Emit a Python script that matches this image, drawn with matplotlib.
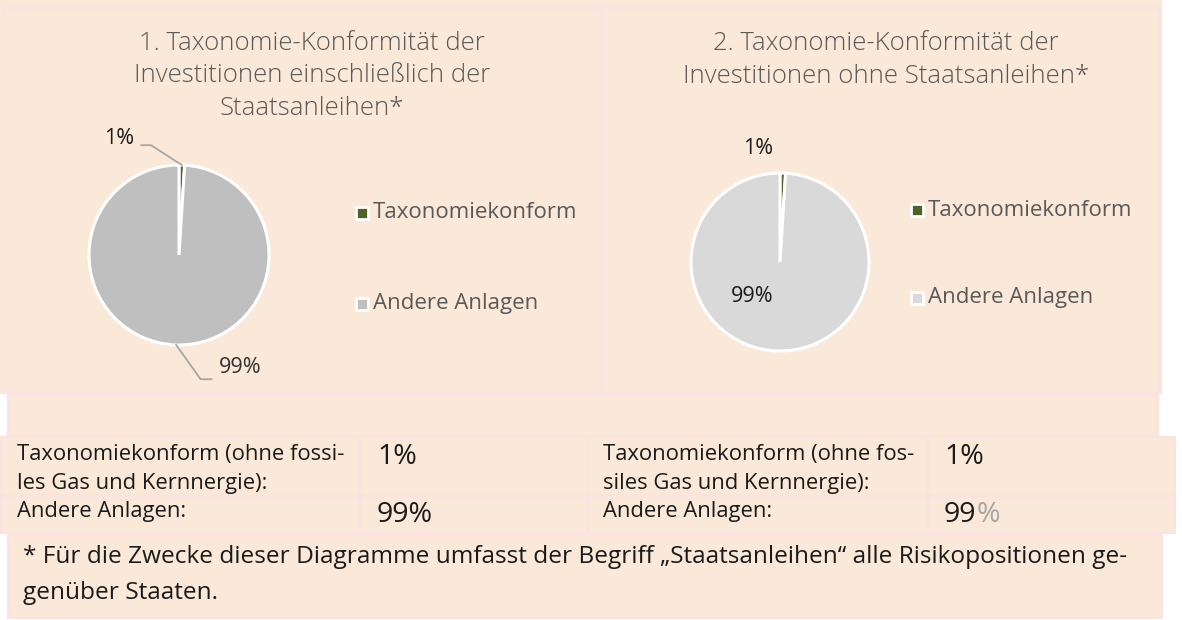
import matplotlib
matplotlib.use("Agg")
import matplotlib.pyplot as plt
from matplotlib.patches import Rectangle
import numpy as np

plt.rcParams['font.family'] = ['Open Sans', 'DejaVu Sans']

# ---- data ----
categories = ["Taxonomiekonform", "Andere Anlagen"]
values_incl = [1, 99]
values_excl = [1, 99]
labels_incl = ["1%", "99%"]
labels_excl = ["1%", "99%"]
title_incl = "1. Taxonomie-Konformität der\nInvestitionen einschließlich der\nStaatsanleihen*"
title_excl = "2. Taxonomie-Konformität der\nInvestitionen ohne Staatsanleihen*"
table_row1_label = ["Taxonomiekonform (ohne fossi-\nles Gas und Kernnergie):",
                    "Taxonomiekonform (ohne fos-\nsiles Gas und Kernnergie):"]
table_row2_label = ["Andere Anlagen:", "Andere Anlagen:"]
table_row1_val = ["1%", "1%"]
table_row2_val = ["99%", "99"]
footnote = ("* Für die Zwecke dieser Diagramme umfasst der Begriff „Staatsanleihen“ alle Risikopositionen ge-\n"
            "genüber Staaten.")

W, H = 1182, 620
PEACH = "#FAE8D8"
PINK = "#FCE2E2"
GREEN = "#4F6228"
GREY1 = "#BFBFBF"
GREY2 = "#D9D9D9"
TXT = "#595959"
LEAD = "#A6A6A6"

fig = plt.figure(figsize=(W / 100, H / 100), dpi=100)
fig.patch.set_facecolor("white")
bg = fig.add_axes([0, 0, 1, 1])
bg.set_xlim(0, W)
bg.set_ylim(H, 0)
bg.axis("off")

def rect(x0, y0, x1, y1, fc=PEACH, ec=PINK, lw=1.5):
    bg.add_patch(Rectangle((x0, y0), x1 - x0, y1 - y0, facecolor=fc, edgecolor=ec, linewidth=lw))

# panels
rect(0, 0, 1162, 394, fc=PEACH, ec="none")
rect(4, 8, 601, 393)
rect(603, 8, 1160, 393)
rect(8, 395, 1158, 436)
for (a0, a1) in [(0, 360), (360, 588), (588, 928), (928, 1175)]:
    rect(a0, 437, a1, 496)
    rect(a0, 496, a1, 533)
rect(8, 534, 1162, 618)

# titles
bg.text(312, 76, title_incl, ha="center", va="center", fontsize=18.5, color=TXT,
        linespacing=1.38, fontweight="light")
bg.text(886, 60, title_excl, ha="center", va="center", fontsize=18.5, color=TXT,
        linespacing=1.38, fontweight="light")

def pie_axes(cx, cy, r):
    ax = fig.add_axes([(cx - r) / W, (H - cy - r) / H, 2 * r / W, 2 * r / H])
    return ax

def finish(ax):
    ax.set_xlim(-1, 1)
    ax.set_ylim(-1, 1)
    ax.set_aspect("auto")
    ax.axis("off")

def mid(w):
    a = np.deg2rad((w.theta1 + w.theta2) / 2)
    return np.cos(a), np.sin(a)

# pie 1
ax1 = pie_axes(179, 255, 90)
w1, _ = ax1.pie(values_incl, colors=[GREEN, GREY1], startangle=90, counterclock=False,
                radius=1, wedgeprops=dict(edgecolor="white", linewidth=2.2))
finish(ax1)
p = mid(w1[0])
ax1.plot([-0.42, -0.31, p[0]], [1.22, 1.22, p[1]], color=LEAD, lw=1.3, clip_on=False)
ax1.text(-0.5, 1.30, labels_incl[0], ha="right", va="center", fontsize=15.5, color="#1a1a1a")
p = mid(w1[1])
ax1.plot([p[0], 0.24, 0.36], [p[1], -1.38, -1.38], color=LEAD, lw=1.3, clip_on=False)
ax1.text(0.44, -1.25, labels_incl[1], ha="left", va="center", fontsize=15.5, color="#333333")

# pie 2
ax2 = pie_axes(780, 262, 89)
w2, _ = ax2.pie(values_excl, colors=[GREEN, GREY2], startangle=90, counterclock=False,
                radius=1, wedgeprops=dict(edgecolor="white", linewidth=2.2))
finish(ax2)
ax2.text(-0.25, 1.27, labels_excl[0], ha="center", va="center", fontsize=15.5, color="#1a1a1a")
ax2.text(-0.31, -0.39, labels_excl[1], ha="center", va="center", fontsize=15.5, color="#1a1a1a")

# legends
def legend(x, ys, cols):
    for y, c, lab in zip(ys, cols, categories):
        bg.add_patch(Rectangle((x, y - 6), 12, 12, facecolor=c, edgecolor="white", linewidth=2))
        bg.text(x + 17, y, lab, ha="left", va="center", fontsize=16, color=TXT)

legend(356, [213, 304], [GREEN, GREY1])
legend(911, [210, 298], [GREEN, GREY2])

# table
TK = "#1a1a1a"
bg.text(17, 469, table_row1_label[0], ha="left", va="center", fontsize=15.8, color=TK, linespacing=1.45)
bg.text(603, 469, table_row1_label[1], ha="left", va="center", fontsize=15.8, color=TK, linespacing=1.45)
bg.text(17, 512, table_row2_label[0], ha="left", va="center", fontsize=15.8, color=TK)
bg.text(603, 512, table_row2_label[1], ha="left", va="center", fontsize=15.8, color=TK)
bg.text(377, 457, table_row1_val[0], ha="left", va="center", fontsize=20.5, color=TK)
bg.text(944, 457, table_row1_val[1], ha="left", va="center", fontsize=20.5, color=TK)
bg.text(377, 515, table_row2_val[0], ha="left", va="center", fontsize=20.5, color=TK)
t = bg.text(944, 515, table_row2_val[1], ha="left", va="center", fontsize=20.5, color=TK)
bg.annotate("%", xycoords=t, xy=(1, 0.5), ha="left", va="center", fontsize=20.5, color="#A6A6A6")

# footnote
bg.text(23, 575, footnote, ha="left", va="center", fontsize=17.6, color=TK, linespacing=1.7)

fig.savefig("out.png", dpi=100, facecolor="white")
